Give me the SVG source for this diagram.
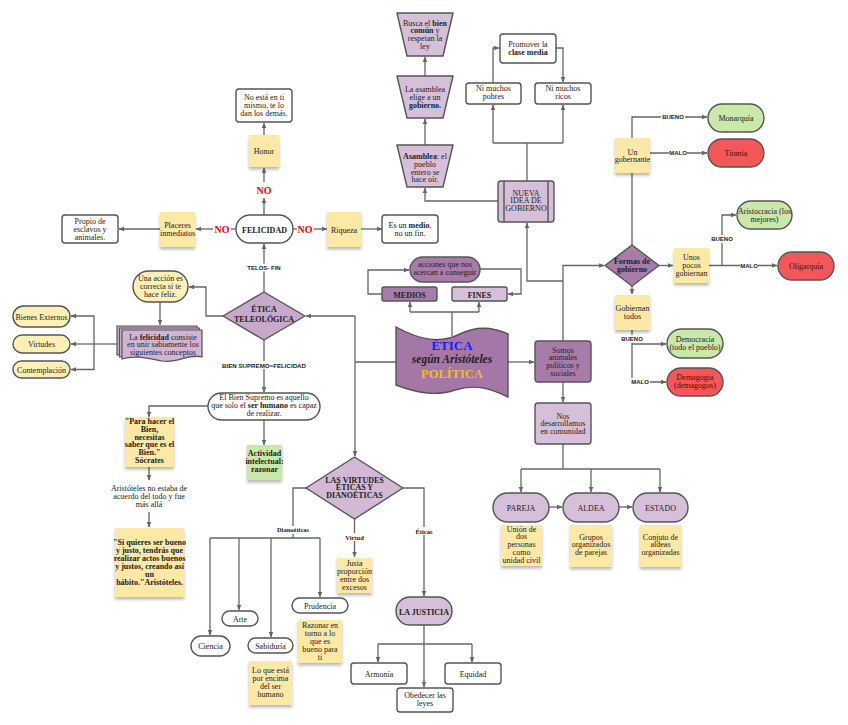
<svg xmlns="http://www.w3.org/2000/svg" width="848" height="725" viewBox="0 0 848 725">
<defs>
<style>
.t{font-family:"Liberation Serif","Times New Roman",serif;font-size:8px;fill:#222;text-anchor:middle}
.b{font-weight:bold}
.l{font-family:"Liberation Sans",Arial,sans-serif;font-size:6px;font-weight:bold;fill:#222;text-anchor:middle}
.ls{font-family:"Liberation Serif","Times New Roman",serif;font-size:6.5px;font-weight:bold;fill:#222;text-anchor:middle}
.no{font-family:"Liberation Serif","Times New Roman",serif;font-size:10px;font-weight:bold;fill:#f00;text-anchor:middle}
.c{fill:none;stroke:#666;stroke-width:1.3}
.a{marker-end:url(#ah)}
.bx{fill:#fff;stroke:#555;stroke-width:1.4}
.ys{fill:#fdf0b6;stroke:#555;stroke-width:1.4}
.st{fill:#fde9a6;filter:url(#sh)}
.gs{fill:#c9e8a9;filter:url(#sh)}
.gn{fill:#c9e8a9;stroke:#555;stroke-width:1.4}
.rd{fill:#f45757;stroke:#555;stroke-width:1.4}
.lp{fill:#d6c0d9;stroke:#555;stroke-width:1.4}
.mp{fill:#a87ca9;stroke:#555;stroke-width:1.4}
.bg{fill:#fff}
.rt{fill:#4a1010}
</style>
<marker id="ah" viewBox="0 0 10 10" refX="9" refY="5" markerWidth="6" markerHeight="6" markerUnits="userSpaceOnUse" orient="auto"><path d="M0,1L10,5L0,9z" fill="#666"/></marker>
<filter id="sh" x="-20%" y="-20%" width="140%" height="150%"><feDropShadow dx="0" dy="2.5" stdDeviation="1.5" flood-color="#000" flood-opacity="0.28"/></filter>
</defs>
<rect width="848" height="725" fill="#fff"/>

<g id="connectors">
<path class="c a" d="M264,215V198"/>
<path class="c a" d="M264,182V168"/>
<path class="c" d="M236,229H231"/>
<path class="c a" d="M213,229H196"/>
<path class="c" d="M293,229H297"/>
<path class="c a" d="M314,229H327"/>
<path class="c a" d="M160,229H119"/>
<path class="c a" d="M264,135V123"/>
<path class="c a" d="M361,229H382"/>
<path class="c a" d="M264,292V244"/>
<path class="c a" d="M223,316H206V287H189"/>
<path class="c a" d="M160,302V325"/>
<path class="c" d="M117,344H94"/>
<path class="c a" d="M94,344V316H71"/>
<path class="c a" d="M94,344V369.5H71"/>
<path class="c a" d="M94,344H71"/>
<path class="c a" d="M264,340V392"/>
<path class="c a" d="M208,406H149V417"/>
<path class="c a" d="M264,420V445"/>
<path class="c a" d="M149,467V480"/>
<path class="c a" d="M149,512V527"/>
<path class="c" d="M396,362H355"/>
<path class="c a" d="M355,316V456"/>
<path class="c a" d="M355,316H306"/>
<path class="c a" d="M508,362H534"/>
<path class="c" d="M452,336V312"/>
<path class="c" d="M410,312H479"/>
<path class="c a" d="M410,312V302"/>
<path class="c a" d="M479,312V302"/>
<path class="c a" d="M382,294H368V270H409"/>
<path class="c a" d="M480,269H521V294H508"/>
<path class="c a" d="M563,341V265.5H604"/>
<path class="c a" d="M563,281H527V223"/>
<path class="c a" d="M498,201H425V188"/>
<path class="c a" d="M425,145V119"/>
<path class="c a" d="M425,76V57"/>
<path class="c" d="M527,181V143"/>
<path class="c" d="M493,143H563"/>
<path class="c a" d="M493,143V105"/>
<path class="c a" d="M563,143V105"/>
<path class="c a" d="M493,83V48H499"/>
<path class="c a" d="M556,48H563V82"/>
<path class="c a" d="M659,265.5H673"/>
<path class="c" d="M632,245V173"/>
<path class="c a" d="M632,138V117H707"/>
<path class="c a" d="M650,153H707"/>
<path class="c a" d="M632,286V294"/>
<path class="c a" d="M709,265.5H777"/>
<path class="c a" d="M722,265.5V215H736"/>
<path class="c" d="M632,330V382"/>
<path class="c a" d="M632,344H666"/>
<path class="c a" d="M632,382H666"/>
<path class="c a" d="M563,382V402"/>
<path class="c" d="M563,444V469"/>
<path class="c" d="M521,469H660"/>
<path class="c a" d="M521,469V492"/>
<path class="c a" d="M591,469V492"/>
<path class="c a" d="M660,469V492"/>
<path class="c a" d="M549,507H562"/>
<path class="c a" d="M619,507H632"/>
<path class="c" d="M306,488H293V538"/>
<path class="c" d="M210,538H320"/>
<path class="c a" d="M210,538V635"/>
<path class="c a" d="M239,538V610"/>
<path class="c a" d="M271,538V637"/>
<path class="c a" d="M320,538V597"/>
<path class="c a" d="M354.5,519V557"/>
<path class="c a" d="M403,488H424V596"/>
<path class="c a" d="M424,625V687"/>
<path class="c" d="M378,644H472"/>
<path class="c a" d="M378,644V662"/>
<path class="c a" d="M472,644V662"/>
<text class="no" x="264" y="194">NO</text>
<text class="no" x="222" y="233">NO</text>
<text class="no" x="305" y="233">NO</text>
<rect class="bg" x="241" y="263.5" width="46" height="8"/>
<text class="l" x="264" y="270" font-size="6.5">TELOS- FIN</text>
<rect class="bg" x="221" y="361" width="86" height="8"/>
<text class="l" x="264" y="367.5" textLength="84" lengthAdjust="spacingAndGlyphs">BIEN SUPREMO=FELICIDAD</text>
<rect class="bg" x="661" y="113" width="24" height="8"/>
<text class="l" x="673" y="119">BUENO</text>
<rect class="bg" x="669" y="149" width="18" height="8"/>
<text class="l" x="678" y="155">MALO</text>
<rect class="bg" x="710" y="235" width="24" height="8"/>
<text class="l" x="722" y="241">BUENO</text>
<rect class="bg" x="740" y="261.5" width="18" height="8"/>
<text class="l" x="749" y="267.5">MALO</text>
<rect class="bg" x="620" y="335" width="24" height="8"/>
<text class="l" x="632" y="341">BUENO</text>
<rect class="bg" x="630" y="378" width="20" height="8"/>
<text class="l" x="640" y="384">MALO</text>
<rect class="bg" x="275" y="526" width="36" height="8"/>
<text class="ls" x="293" y="532">Dianoéticas</text>
<rect class="bg" x="344" y="533" width="21" height="8"/>
<text class="ls" x="354.5" y="539.5">Virtud</text>
<rect class="bg" x="413" y="527" width="22" height="8"/>
<text class="ls" x="424" y="533.5">Éticas</text>
</g>

<g id="no-esta">
<rect class="bx" x="236" y="89" width="56" height="33" rx="3"/>
<text class="t"><tspan x="264" y="100">No está en ti</tspan><tspan x="264" y="108">mismo, te lo</tspan><tspan x="264" y="116">dan los demás.</tspan></text>
</g>
<g id="honor">
<rect class="st" x="249" y="135" width="30" height="32"/>
<text class="t" x="264" y="154">Honor</text>
</g>
<g id="felicidad">
<rect class="bx" x="236" y="215" width="57" height="28" rx="14"/>
<text class="t b" x="264.5" y="232.5" font-size="8.5">FELICIDAD</text>
</g>
<g id="placeres">
<rect class="st" x="160" y="212" width="35" height="35"/>
<text class="t"><tspan x="177.5" y="228">Placeres</tspan><tspan x="177.5" y="236">inmediatos</tspan></text>
</g>
<g id="propio">
<rect class="bx" x="62" y="215" width="56" height="28" rx="3"/>
<text class="t"><tspan x="90" y="223.5">Propio de</tspan><tspan x="90" y="231.5">esclavos y</tspan><tspan x="90" y="239.5">animales.</tspan></text>
</g>
<g id="riqueza">
<rect class="st" x="327" y="212" width="34" height="35"/>
<text class="t" x="344" y="232.5">Riqueza</text>
</g>
<g id="es-medio">
<rect class="bx" x="382" y="215" width="56" height="28" rx="3"/>
<text class="t"><tspan x="410" y="228">Es un <tspan class="b">medio</tspan>,</tspan><tspan x="410" y="236">no un fin.</tspan></text>
</g>
<g id="etica-teleologica">
<path d="M264,292L305,316L264,340L223,316Z" fill="#c8a8cb" stroke="#555" stroke-width="1.4" stroke-linejoin="round"/>
<text class="t b" font-size="9.5"><tspan x="264" y="312">ÉTICA</tspan><tspan x="264" y="322">TELEOLÓGICA</tspan></text>
</g>
<g id="una-accion">
<rect class="ys" x="133" y="271" width="55" height="31" rx="15.5"/>
<text class="t"><tspan x="160.5" y="281">Una acción es</tspan><tspan x="160.5" y="288.8">correcta si te</tspan><tspan x="160.5" y="296.6">hace feliz.</tspan></text>
</g>
<g id="la-felicidad">
<path transform="translate(-5,-4)" d="M122,330H202V357C188,353 178,364 162,361C146,358 134,355 122,359Z" fill="#d0b5d3" stroke="#555" stroke-width="1.2"/>
<path transform="translate(-2.5,-2)" d="M122,330H202V357C188,353 178,364 162,361C146,358 134,355 122,359Z" fill="#d0b5d3" stroke="#555" stroke-width="1.2"/>
<path d="M122,330H202V357C188,353 178,364 162,361C146,358 134,355 122,359Z" fill="#d0b5d3" stroke="#555" stroke-width="1.2"/>
<text class="t"><tspan x="163" y="339.5">La <tspan class="b">felicidad</tspan> consiste</tspan><tspan x="163" y="347.3">en unir sabiamente los</tspan><tspan x="163" y="355.1">siguientes conceptos</tspan></text>
</g>
<g id="bienes-externos">
<rect class="ys" x="13" y="306" width="57" height="21" rx="10.5"/>
<text class="t" x="41.5" y="319.5">Bienes Externos</text>
</g>
<g id="virtudes">
<rect class="ys" x="13" y="335" width="57" height="18" rx="9"/>
<text class="t" x="41.5" y="347">Virtudes</text>
</g>
<g id="contemplacion">
<rect class="ys" x="13" y="361" width="57" height="17" rx="8.5"/>
<text class="t" x="41.5" y="372.5">Contemplación</text>
</g>
<g id="bien-supremo">
<rect class="bx" x="208" y="393" width="112" height="27" rx="13.5"/>
<text class="t"><tspan x="264" y="400">El Bien Supremo es aquello</tspan><tspan x="264" y="408">que solo el <tspan class="b">ser humano</tspan> es capaz</tspan><tspan x="264" y="416">de realizar.</tspan></text>
</g>
<g id="para-hacer">
<rect class="st" x="125" y="417" width="49" height="50"/>
<text class="t b"><tspan x="149.5" y="424">"Para hacer el</tspan><tspan x="149.5" y="431.8">Bien,</tspan><tspan x="149.5" y="439.6">necesitas</tspan><tspan x="149.5" y="447.4">saber que es el</tspan><tspan x="149.5" y="455.2">Bien."</tspan><tspan x="149.5" y="463">Sócrates</tspan></text>
</g>
<g id="actividad">
<rect class="gs" x="247" y="445" width="35" height="35"/>
<text class="t b"><tspan x="264.5" y="456">Actividad</tspan><tspan x="264.5" y="464">intelectual:</tspan><tspan x="264.5" y="472">razonar</tspan></text>
</g>
<g id="aristoteles-no">
<text class="t"><tspan x="149" y="491">Aristóteles no estaba de</tspan><tspan x="149" y="498.8">acuerdo del todo y fue</tspan><tspan x="149" y="506.6">más allá</tspan></text>
</g>
<g id="si-quieres">
<rect class="st" x="115" y="528" width="69" height="69"/>
<text class="t b"><tspan x="149.5" y="545">"Si quieres ser bueno</tspan><tspan x="149.5" y="552.9">y justo, tendrás que</tspan><tspan x="149.5" y="560.8">realizar actos buenos</tspan><tspan x="149.5" y="568.7">y justos, creando así</tspan><tspan x="149.5" y="576.6">un</tspan><tspan x="149.5" y="584.5">hábito."Aristóteles.</tspan></text>
</g>
<g id="busca">
<path class="lp" d="M397,13H453L443,56H407Z" stroke-linejoin="round"/>
<text class="t"><tspan x="425" y="25.5">Busca el <tspan class="b">bien</tspan></tspan><tspan x="425" y="33.3"><tspan class="b">común</tspan> y</tspan><tspan x="425" y="41.1">respetan la</tspan><tspan x="425" y="48.9">ley</tspan></text>
</g>
<g id="la-asamblea">
<path class="lp" d="M397,76H453L443,118H407Z" stroke-linejoin="round"/>
<text class="t"><tspan x="425" y="92">La asamblea</tspan><tspan x="425" y="99.8">elige a un</tspan><tspan x="425" y="107.6" class="b">gobierno.</tspan></text>
</g>
<g id="asamblea">
<path class="lp" d="M397,145H453L443,187H407Z" stroke-linejoin="round"/>
<text class="t"><tspan x="425" y="159"><tspan class="b">Asamblea</tspan>: el</tspan><tspan x="425" y="166.8">pueblo</tspan><tspan x="425" y="174.6">entero se</tspan><tspan x="425" y="182.4">hace oír.</tspan></text>
</g>
<g id="nueva-idea">
<rect class="lp" x="498" y="181" width="56" height="41" rx="3"/>
<path d="M504,181V222M548,181V222" stroke="#555" stroke-width="1.4"/>
<text class="t"><tspan x="526" y="195.5">NUEVA</tspan><tspan x="526" y="203.3">IDEA DE</tspan><tspan x="526" y="211.1">GOBIERNO</tspan></text>
</g>
<g id="pobres">
<rect class="bx" x="466" y="83" width="55" height="21" rx="3"/>
<text class="t"><tspan x="493.5" y="91">Ni muchos</tspan><tspan x="493.5" y="99">pobres</tspan></text>
</g>
<g id="ricos">
<rect class="bx" x="535" y="83" width="56" height="21" rx="3"/>
<text class="t"><tspan x="563" y="91">Ni muchos</tspan><tspan x="563" y="99">ricos</tspan></text>
</g>
<g id="promover">
<rect class="bx" x="500" y="34" width="56" height="29" rx="3"/>
<text class="t"><tspan x="528" y="47">Promover la</tspan><tspan x="528" y="55" class="b">clase media</tspan></text>
</g>
<g id="un-gobernante">
<rect class="st" x="615" y="138" width="35" height="35"/>
<text class="t"><tspan x="632.5" y="154.5">Un</tspan><tspan x="632.5" y="162.3">gobernante</tspan></text>
</g>
<g id="monarquia">
<rect class="gn" x="708" y="104" width="56" height="28" rx="14"/>
<text class="t" x="736" y="121">Monarquía</text>
</g>
<g id="tirania">
<rect class="rd" x="708" y="139" width="56" height="28" rx="14"/>
<text class="t rt" x="736" y="156">Tiranía</text>
</g>
<g id="aristocracia">
<rect class="gn" x="737" y="201" width="55" height="28" rx="14"/>
<text class="t"><tspan x="764.5" y="214">Aristocracia (los</tspan><tspan x="764.5" y="222">mejores)</tspan></text>
</g>
<g id="formas">
<path class="mp" d="M632,245L659,265.5L632,286L605,265.5Z" stroke-linejoin="round"/>
<text class="t b"><tspan x="632" y="263.5">Formas de</tspan><tspan x="632" y="271.5">gobierno</tspan></text>
</g>
<g id="unos-pocos">
<rect class="st" x="674" y="248" width="35" height="35"/>
<text class="t"><tspan x="691.5" y="259.5">Unos</tspan><tspan x="691.5" y="267.5">pocos</tspan><tspan x="691.5" y="275.5">gobiernan</tspan></text>
</g>
<g id="oligarquia">
<rect class="rd" x="778" y="252" width="56" height="28" rx="14"/>
<text class="t rt" x="806" y="269">Oligarquía</text>
</g>
<g id="gobiernan-todos">
<rect class="st" x="615" y="295" width="35" height="35"/>
<text class="t"><tspan x="632.5" y="311">Gobiernan</tspan><tspan x="632.5" y="319">todos</tspan></text>
</g>
<g id="democracia">
<rect class="gn" x="667" y="329" width="56" height="29" rx="14.5"/>
<text class="t"><tspan x="695" y="342">Democracia</tspan><tspan x="695" y="350">(todo el pueblo)</tspan></text>
</g>
<g id="demagogia">
<rect class="rd" x="667" y="368" width="56" height="28" rx="14"/>
<text class="t rt"><tspan x="695" y="380">Demagogia</tspan><tspan x="695" y="388">(demagogos)</tspan></text>
</g>
<g id="somos">
<rect class="mp" x="535" y="341" width="56" height="41" rx="3"/>
<text class="t"><tspan x="563" y="352.5">Somos</tspan><tspan x="563" y="360.3">animales</tspan><tspan x="563" y="368.1">políticos y</tspan><tspan x="563" y="375.9">sociales</tspan></text>
</g>
<g id="nos-desarrollamos">
<rect class="lp" x="535" y="403" width="56" height="41" rx="3"/>
<text class="t"><tspan x="563" y="418.5">Nos</tspan><tspan x="563" y="426.3">desarrollamos</tspan><tspan x="563" y="434.1">en comunidad</tspan></text>
</g>
<g id="acciones">
<rect class="mp" x="410" y="257" width="70" height="25" rx="12.5"/>
<text class="t"><tspan x="445" y="267.3">acciones que nos</tspan><tspan x="445" y="275.1">acercan a conseguir</tspan></text>
</g>
<g id="medios">
<rect class="mp" x="382" y="287" width="55" height="14" rx="2"/>
<text class="t b" x="409.5" y="297.5" font-size="9">MEDIOS</text>
</g>
<g id="fines">
<rect class="lp" x="452" y="287" width="55" height="14" rx="2"/>
<text class="t b" x="479.5" y="297.5" font-size="9">FINES</text>
</g>
<g id="etica-politica">
<path d="M396,327C420,340 440,344 460,334C478,325 495,328 508,334L508,397C490,388 475,384 455,390C435,397 415,392 396,385Z" fill="#a577a7" stroke="#555" stroke-width="1.4"/>
<text x="452" y="350" font-family="'Liberation Serif',serif" font-size="13" font-weight="bold" fill="#1a1aff" text-anchor="middle">ÉTICA</text>
<text x="452" y="363" font-family="'Liberation Serif',serif" font-size="11.5" font-weight="bold" font-style="italic" fill="#222" text-anchor="middle">según Aristóteles</text>
<text x="452" y="378" font-family="'Liberation Serif',serif" font-size="12.5" font-weight="bold" fill="#f5b82e" text-anchor="middle">POLÍTICA</text>
</g>
<g id="pareja">
<rect class="lp" x="493" y="493" width="56" height="29" rx="14.5" fill="#dccde0"/>
<text class="t" x="521" y="510.5" font-size="8.5">PAREJA</text>
</g>
<g id="aldea">
<rect class="lp" x="563" y="493" width="56" height="29" rx="14.5"/>
<text class="t" x="591" y="510.5" font-size="8.5">ALDEA</text>
</g>
<g id="estado">
<rect class="lp" x="633" y="493" width="55" height="29" rx="14.5"/>
<text class="t" x="660.5" y="510.5" font-size="8.5">ESTADO</text>
</g>
<g id="union">
<rect class="st" x="501" y="525" width="41" height="41"/>
<text class="t"><tspan x="521.5" y="531.5">Unión de</tspan><tspan x="521.5" y="539.3">dos</tspan><tspan x="521.5" y="547.1">personas</tspan><tspan x="521.5" y="554.9">como</tspan><tspan x="521.5" y="562.7">unidad civil</tspan></text>
</g>
<g id="grupos">
<rect class="st" x="570" y="525" width="42" height="42"/>
<text class="t"><tspan x="591" y="539.5">Grupos</tspan><tspan x="591" y="547.3">organizados</tspan><tspan x="591" y="555.1">de parejas</tspan></text>
</g>
<g id="conjuto">
<rect class="st" x="640" y="525" width="41" height="42"/>
<text class="t"><tspan x="660.5" y="539.5">Conjuto de</tspan><tspan x="660.5" y="547.3">aldeas</tspan><tspan x="660.5" y="555.1">organizadas</tspan></text>
</g>
<g id="las-virtudes">
<path d="M354.5,457L403,488L354.5,519L306,488Z" fill="#d3b9d5" stroke="#555" stroke-width="1.4" stroke-linejoin="round"/>
<text class="t b"><tspan x="354.5" y="482.5">LAS VIRTUDES</tspan><tspan x="354.5" y="490.3">ÉTICAS Y</tspan><tspan x="354.5" y="498.1">DIANOÉTICAS</tspan></text>
</g>
<g id="justa">
<rect class="st" x="337" y="558" width="35" height="35"/>
<text class="t"><tspan x="354.5" y="565.5">Justa</tspan><tspan x="354.5" y="573.5">proporción</tspan><tspan x="354.5" y="581.5">entre dos</tspan><tspan x="354.5" y="589.5">excesos</tspan></text>
</g>
<g id="la-justicia">
<rect class="lp" x="396" y="597" width="56" height="28" rx="14"/>
<text class="t b" x="424" y="614.5" font-size="9">LA JUSTICIA</text>
</g>
<g id="prudencia">
<rect class="bx" x="292" y="598" width="56" height="15" rx="7.5"/>
<text class="t" x="320" y="608.5">Prudencia</text>
</g>
<g id="razonar">
<rect class="st" x="298" y="620" width="44" height="43"/>
<text class="t"><tspan x="320" y="628.3">Razonar en</tspan><tspan x="320" y="636.1">torno a lo</tspan><tspan x="320" y="643.9">que es</tspan><tspan x="320" y="651.7">bueno para</tspan><tspan x="320" y="659.5">ti</tspan></text>
</g>
<g id="arte">
<rect class="bx" x="222" y="611" width="36" height="15" rx="7.5"/>
<text class="t" x="240" y="621.5">Arte</text>
</g>
<g id="ciencia">
<rect class="bx" x="191" y="636" width="39" height="20" rx="10"/>
<text class="t" x="210.5" y="649">Ciencia</text>
</g>
<g id="sabiduria">
<rect class="bx" x="248" y="638" width="45" height="15" rx="7.5"/>
<text class="t" x="270.5" y="648.5">Sabiduría</text>
</g>
<g id="lo-que-esta">
<rect class="st" x="249" y="661" width="43" height="44"/>
<text class="t"><tspan x="270.5" y="673">Lo que está</tspan><tspan x="270.5" y="681">por encima</tspan><tspan x="270.5" y="689">del ser</tspan><tspan x="270.5" y="697">humano</tspan></text>
</g>
<g id="armonia">
<rect class="bx" x="351" y="663" width="56" height="21" rx="3"/>
<text class="t" x="379" y="676.5">Armonía</text>
</g>
<g id="equidad">
<rect class="bx" x="445" y="663" width="56" height="21" rx="3"/>
<text class="t" x="473" y="676.5">Equidad</text>
</g>
<g id="obedecer">
<rect class="bx" x="397" y="688" width="56" height="24" rx="3"/>
<text class="t"><tspan x="425" y="697.8">Obedecer las</tspan><tspan x="425" y="705.6">leyes</tspan></text>
</g>
</svg>
